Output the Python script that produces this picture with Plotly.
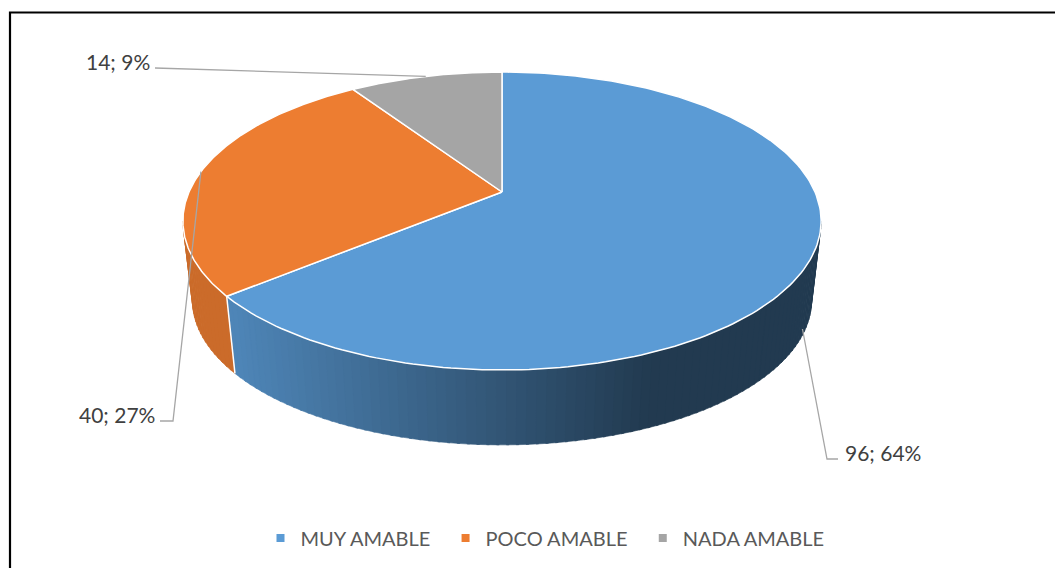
import numpy as np
import plotly.graph_objects as go

# ---------------- data ----------------
categories = ["MUY AMABLE", "POCO AMABLE", "NADA AMABLE"]
values = [96, 40, 14]
top_colors = ["#5B9BD5", "#ED7D31", "#A5A5A5"]

# ---------------- geometry of the 3-D pie (pixel space) ----------------
W, H = 1063, 568
OFF = 8.0                      # page body margin compensation
CX, CY = 502.0, 192.0          # projected centre of top face
SX, SY, K = 313.0, 143.3, 0.1946  # ellipse radii + perspective factor
S_BOT, D_BOT = 0.97, 80.3      # bottom face scale + drop


def top_pt(theta_deg):
    t = np.radians(theta_deg)
    u, v = np.cos(t), np.sin(t)
    den = 1 + K * v
    return CX + SX * u / den, CY - SY * v / den


def bot_pt(theta_deg):
    x, y = top_pt(theta_deg)
    return CX + S_BOT * (x - CX), CY + S_BOT * (y - CY) + D_BOT


def hex_rgb(h):
    h = h.lstrip("#")
    return tuple(int(h[i:i + 2], 16) for i in (0, 2, 4))


def shade(hexcol, x):
    t = min(max((x - 236.0) / (650.0 - 236.0), 0.0), 1.0)
    f = 0.86 + (0.38 - 0.86) * t
    r, g, b = hex_rgb(hexcol)
    return "rgb(%d,%d,%d)" % (r * f, g * f, b * f)


total = float(sum(values))
# slice intervals (clockwise from 12 o'clock)
intervals = []
start = 90.0
for v in values:
    sweep = 360.0 * v / total
    intervals.append((start - sweep, start))
    start -= sweep

SIL = np.degrees(np.arcsin(K))
WALL_LO, WALL_HI = 180.0 + SIL, 360.0 - SIL

fig = go.Figure()

# ---------------- side walls ----------------
edge_angles = []
for i, (lo, hi) in enumerate(intervals):
    for shift in (-360.0, 0.0, 360.0):
        a, b = max(lo + shift, WALL_LO), min(hi + shift, WALL_HI)
        if b > a:
            n = max(int((b - a) / 1.5), 2)
            edges = np.linspace(a, b, n + 1)
            for j in range(n):
                a0, a1 = edges[j], min(edges[j + 1] + 0.4, b)
                th = np.linspace(a0, a1, 4)
                xt, yt = top_pt(th)
                xb, yb = bot_pt(th[::-1])
                xs = np.concatenate([xt, xb, xt[:1]])
                ys = np.concatenate([yt, yb, yt[:1]])
                col = shade(top_colors[i], float(np.mean(xt)))
                fig.add_trace(go.Scatter(
                    x=xs, y=ys, mode="lines", fill="toself", fillcolor=col,
                    line=dict(color=col, width=0.6), hoverinfo="skip",
                    showlegend=False))
            for e in (a, b):
                if WALL_LO + 0.5 < e < WALL_HI - 0.5:
                    edge_angles.append(e)

# white vertical edges between walls
for e in set(np.round(edge_angles, 3)):
    x0, y0 = top_pt(e)
    x1, y1 = bot_pt(e)
    fig.add_trace(go.Scatter(x=[x0, x1], y=[y0, y1], mode="lines",
                             line=dict(color="white", width=1.5),
                             hoverinfo="skip", showlegend=False))

# ---------------- top face ----------------
for i, (lo, hi) in enumerate(intervals):
    th = np.linspace(hi, lo, 200)
    xr, yr = top_pt(th)
    xs = np.concatenate([[CX], xr, [CX]])
    ys = np.concatenate([[CY], yr, [CY]])
    fig.add_trace(go.Scatter(
        x=xs, y=ys, mode="lines", fill="toself", fillcolor=top_colors[i],
        line=dict(color="white", width=1.5), hoverinfo="skip",
        showlegend=False))

# ---------------- data labels with leader lines ----------------
label_layout = [
    dict(path=[(827, 459), (838, 459)], tx=843, ty=452, xanchor="left"),
    dict(path=[(173, 421), (160, 421)], tx=157, ty=414, xanchor="right"),
    dict(path=[(155, 68)], tx=152, ty=61, xanchor="right"),
]
for i, (lo, hi) in enumerate(intervals):
    mid = (lo + hi) / 2.0
    m = mid % 360.0
    if WALL_LO < m < WALL_HI:
        xt, yt = top_pt(m)
        xb, yb = bot_pt(m)
        ax, ay = xt + 0.9 * (xb - xt), yt + 0.9 * (yb - yt)
    else:
        ax, ay = top_pt(m)
    L = label_layout[i]
    px = [ax] + [p[0] for p in L["path"]]
    py = [ay] + [p[1] for p in L["path"]]
    fig.add_trace(go.Scatter(x=px, y=py, mode="lines",
                             line=dict(color="#A6A6A6", width=1.3),
                             hoverinfo="skip", showlegend=False))
    pct = int(round(100.0 * values[i] / total))
    fig.add_annotation(x=L["tx"], y=L["ty"], xref="x", yref="y",
                       text=f"{values[i]}; {pct}%", showarrow=False,
                       xanchor=L["xanchor"], yanchor="middle",
                       font=dict(family="Lato", size=21, color="#404040"))

# ---------------- legend entries ----------------
for name, col in zip(categories, top_colors):
    fig.add_trace(go.Scatter(x=[None], y=[None], mode="markers",
                             name=name + "\u00a0\u00a0",
                             marker=dict(symbol="square", size=8, color=col)))

# ---------------- frame ----------------
fig.add_shape(type="rect", xref="x", yref="y", x0=10, y0=12.5, x1=1085,
              y1=590, line=dict(color="black", width=2.2),
              fillcolor="rgba(0,0,0,0)")

fig.update_layout(
    width=W, height=H,
    margin=dict(l=0, r=0, t=0, b=0),
    paper_bgcolor="white", plot_bgcolor="white",
    xaxis=dict(range=[OFF, W + OFF], visible=False, fixedrange=True),
    yaxis=dict(range=[H + OFF, OFF], visible=False, fixedrange=True),
    showlegend=True,
    legend=dict(orientation="h", x=(550 - OFF) / W, xanchor="center",
                y=1 - (538 - OFF) / H, yanchor="middle",
                font=dict(family="Lato", size=20, color="#595959"),
                bgcolor="rgba(0,0,0,0)"),
)

fig.write_html("out.html")
